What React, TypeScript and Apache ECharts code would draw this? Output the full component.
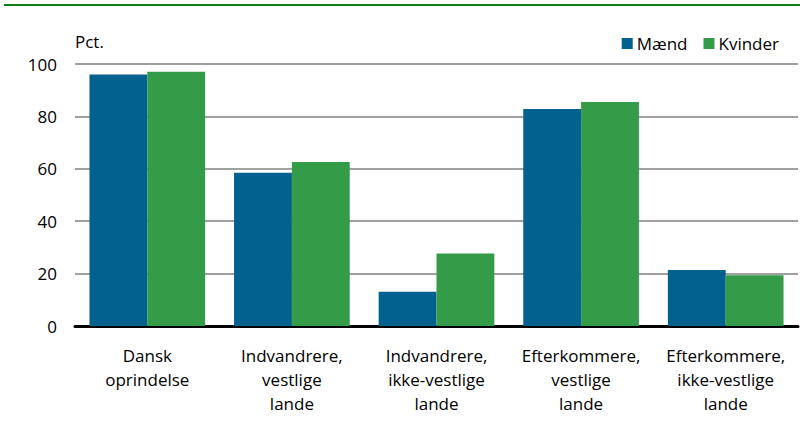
import React, { useEffect, useRef } from "react";
import * as echarts from "echarts";

const categories = [
  "Dansk\noprindelse",
  "Indvandrere,\nvestlige\nlande",
  "Indvandrere,\nikke-vestlige\nlande",
  "Efterkommere,\nvestlige\nlande",
  "Efterkommere,\nikke-vestlige\nlande",
];
const maend = [96.0, 58.5, 13.1, 82.8, 21.4];
const kvinder = [97.0, 62.6, 27.7, 85.5, 19.4];
const seriesNames = ["Mænd", "Kvinder"];

const FONT = "'Liberation Sans Narrow', 'Open Sans', sans-serif";

export default function App() {
  const ref = useRef<HTMLDivElement>(null);
  useEffect(() => {
    if (!ref.current) return;
    const chart = echarts.init(ref.current, undefined, { renderer: "svg" });
    chart.setOption({
      animation: false,
      textStyle: { fontFamily: FONT, color: "#000" },
      graphic: [
        {
          type: "line",
          shape: { x1: 4, y1: 5, x2: 800, y2: 5 },
          style: { stroke: "#0b7d1a", lineWidth: 2 },
        },
      ],
      legend: {
        data: seriesNames,
        right: 18,
        top: 30,
        itemWidth: 11,
        itemHeight: 11,
        itemGap: 16,
        icon: "rect",
        textStyle: { fontFamily: FONT, fontSize: 17, color: "#000", padding: [0, 0, 0, -1] },
      },
      grid: { left: 75, right: 4, top: 64, bottom: 95, containLabel: false },
      xAxis: {
        type: "category",
        data: categories,
        axisLine: { show: true, lineStyle: { color: "#000", width: 3 } },
        axisTick: { show: false },
        axisLabel: {
          fontFamily: FONT,
          fontSize: 17,
          color: "#000",
          lineHeight: 24,
          margin: 17,
          interval: 0,
        },
      },
      yAxis: {
        type: "value",
        min: 0,
        max: 100,
        interval: 20,
        name: "Pct.",
        nameLocation: "end",
        nameGap: 14,
        nameTextStyle: { fontFamily: FONT, fontSize: 17, color: "#000", align: "left", padding: [0, 0, 0, 0] },
        axisLine: { show: false },
        axisTick: { show: false },
        axisLabel: { fontFamily: FONT, fontSize: 17, color: "#000", margin: 18 },
        splitLine: { show: true, lineStyle: { color: "#a0a0a0", width: 2 } },
      },
      series: [
        {
          name: seriesNames[0],
          type: "bar",
          data: maend,
          barGap: "0%",
          barCategoryGap: "20%",
          itemStyle: { color: "#03618f" },
        },
        {
          name: seriesNames[1],
          type: "bar",
          data: kvinder,
          itemStyle: { color: "#349c49" },
        },
      ],
    });
    return () => chart.dispose();
  }, []);
  return (
    <div
      ref={ref}
      style={{ position: "fixed", left: 0, top: 0, width: 802, height: 421, background: "#fff" }}
    />
  );
}
